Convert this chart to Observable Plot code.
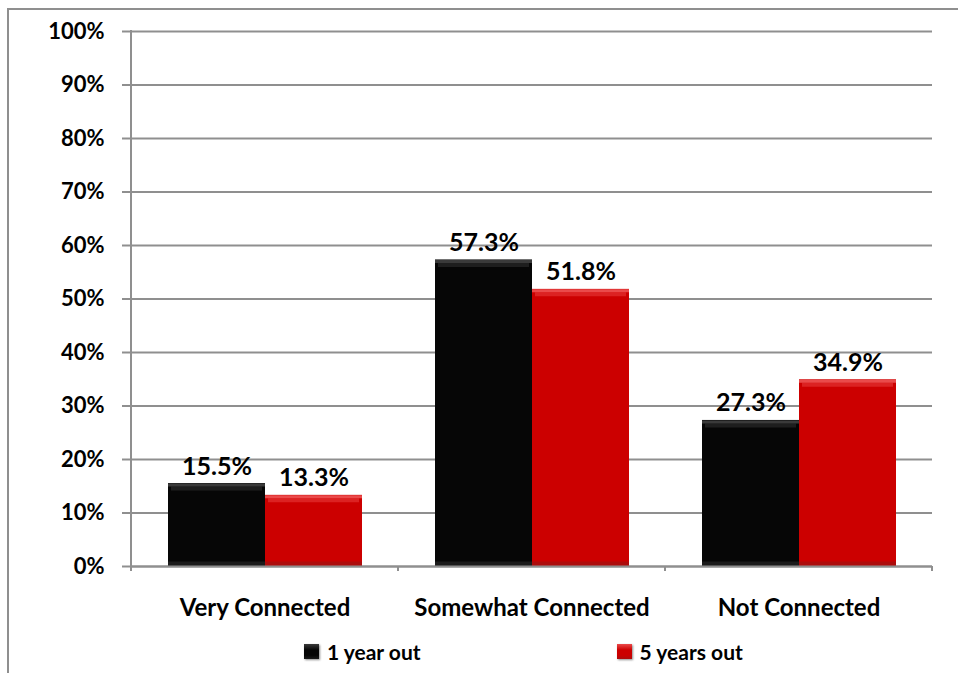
<!DOCTYPE html>
<html>
<head>
<meta charset="utf-8">
<script src="https://cdn.jsdelivr.net/npm/d3@7"></script>
<script src="https://cdn.jsdelivr.net/npm/@observablehq/plot@0.6"></script>
<style>
  html, body { margin: 0; padding: 0; background: #fff; width: 958px; height: 673px; overflow: hidden; }
  body { position: relative; font-family: Lato, "Open Sans", sans-serif; }
  #frame { position: absolute; left: 7px; top: 8px; width: 1000px; height: 1000px; border: 2px solid #8f8f8f; box-sizing: border-box; pointer-events: none; }
  #chart { position: absolute; left: 0; top: 0; }
  #legend { position: absolute; left: 0; top: 630px; width: 958px; height: 43px; display: flex; align-items: center; padding-left: 304px; box-sizing: border-box; gap: 196px; font-weight: bold; font-size: 21px; color: #000; }
  .item { display: flex; align-items: center; gap: 8px; white-space: nowrap; }
  .sw { width: 15px; height: 15px; box-shadow: 1px 1px 2px rgba(0,0,0,0.45); }
  g[aria-label="bars"] { filter: drop-shadow(2px 2px 2px rgba(0,0,0,0.45)); }
</style>
</head>
<body>
<div id="chart"></div>
<div id="legend"></div>
<div id="frame"></div>
<script>
// ---- data ----
const categories = ["Very Connected", "Somewhat Connected", "Not Connected"];
const series = ["1 year out", "5 years out"];
const oneYearOut = [15.5, 57.3, 27.3];
const fiveYearsOut = [13.3, 51.8, 34.9];
const yTicks = [0, 10, 20, 30, 40, 50, 60, 70, 80, 90, 100];

// ---- styles ----
const baseColors = ["#060606", "#cc0000"];
const topColors = ["#3a3a3a", "#ea4a4a"];
const topColors2 = ["#1e1e1e", "#dc2222"];
const bottomColors = ["#1b1b1b", "#ad0c0c"];
const gridColor = "#8f8f8f";

const valuesBySeries = [oneYearOut, fiveYearsOut];
const rows = [];
series.forEach((s, si) => categories.forEach((c, ci) => rows.push({category: c, series: s, value: valuesBySeries[si][ci]})));

const bySeries = s => rows.filter(d => d.series === s);

const marks = [
  Plot.gridY({ticks: yTicks, stroke: gridColor, strokeOpacity: 1, strokeWidth: 2}),
  Plot.axisY({ticks: yTicks, tickFormat: d => d + "%", tickSize: 9, tickPadding: 18, fontSize: 22, fontWeight: "bold", stroke: gridColor, strokeWidth: 2, fill: "#000", label: null}),
  Plot.axisFx({anchor: "bottom", tickSize: 0, tickPadding: 32, fontSize: 24, fontWeight: "bold", fill: "#000", label: null}),
  Plot.barY(rows, {fx: "category", x: "series", y: "value", fill: "series", ariaLabel: "bars"}),
];
series.forEach((s, i) => {
  marks.push(Plot.tickY(bySeries(s), {fx: "category", x: "series", y: "value", stroke: topColors2[i], strokeWidth: 4, dy: 5, insetLeft: 3, insetRight: 3}));
  marks.push(Plot.tickY(bySeries(s), {fx: "category", x: "series", y: "value", stroke: topColors[i], strokeWidth: 3, dy: 1.5}));
  marks.push(Plot.tickY(bySeries(s), {fx: "category", x: "series", y: () => 0, stroke: bottomColors[i], strokeWidth: 5, dy: -2.5}));
});
marks.push(
  Plot.ruleY([0], {stroke: gridColor, strokeWidth: 2}),
  Plot.text(rows, {fx: "category", x: "series", y: "value", text: d => d.value.toFixed(1) + "%", lineAnchor: "bottom", dy: -9, fontSize: 25, fontWeight: "bold", fill: "#000"})
);

const chart = Plot.plot({
  width: 958,
  height: 630,
  marginLeft: 131,
  marginRight: 26,
  marginTop: 31,
  marginBottom: 64,
  style: {fontFamily: "Lato, 'Open Sans', sans-serif", color: "#000", background: "transparent", overflow: "visible"},
  fx: {domain: categories, padding: 0, label: null},
  x: {domain: series, paddingInner: 0, paddingOuter: 0.369, axis: null},
  y: {domain: [0, 100], label: null},
  color: {domain: series, range: baseColors},
  marks
});

// y-axis line and category boundary ticks, positioned from Plot's own scales
const fx = chart.scale("fx");
const y = chart.scale("y");
const svg = d3.select(chart);
const g = svg.append("g").attr("stroke", gridColor).attr("stroke-width", 2);
const left = fx.apply(categories[0]);
g.append("line").attr("x1", left).attr("x2", left).attr("y1", y.apply(100) - 1).attr("y2", y.apply(0));
const bounds = categories.map(c => fx.apply(c)).concat([fx.apply(categories[categories.length - 1]) + fx.bandwidth]);
bounds.forEach(b => g.append("line").attr("x1", b).attr("x2", b).attr("y1", y.apply(0)).attr("y2", y.apply(0) + 5));

document.getElementById("chart").appendChild(chart);

// legend
const legend = d3.select("#legend");
series.forEach((s, i) => {
  const it = legend.append("div").attr("class", "item");
  it.append("div").attr("class", "sw").style("background", `linear-gradient(${topColors[i]}, ${baseColors[i]} 40%, ${baseColors[i]} 75%, ${bottomColors[i]})`);
  it.append("span").text(s);
});
</script>
</body>
</html>
